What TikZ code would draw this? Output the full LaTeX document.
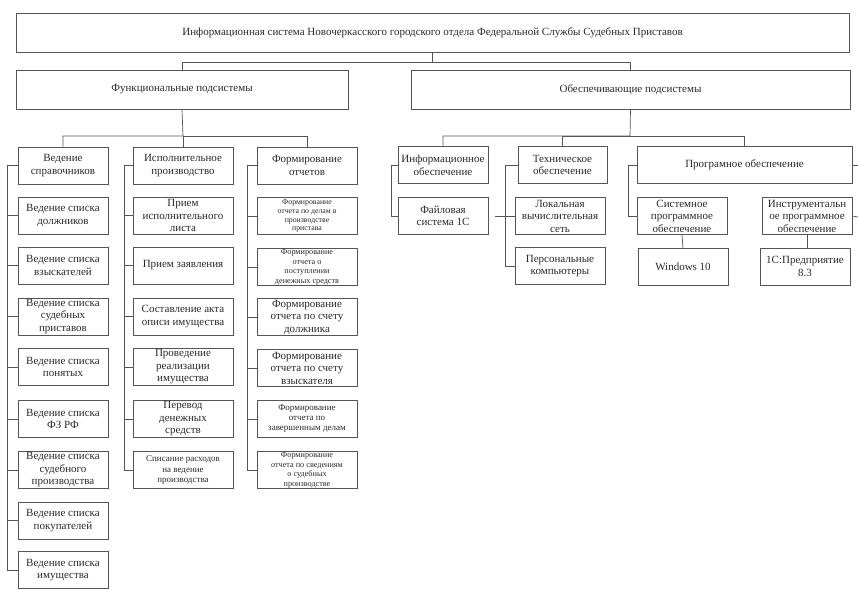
\documentclass[tikz,border=0pt]{standalone}
\usepackage{fontspec}
\setmainfont{Liberation Serif}
\definecolor{linec}{HTML}{555555}
\definecolor{txt}{HTML}{2A2A2A}
\begin{document}
\begin{tikzpicture}[x=1pt,y=-1pt,
  box/.style={draw=linec, line width=0.7pt, fill=white, align=center, text=txt,
    font=\fontsize{11}{12.5}\selectfont, inner sep=0.5pt, minimum height=37pt},
  wide/.style={box, minimum height=39pt, font=\fontsize{11}{12}\selectfont},
  fs/.style 2 args={font=\fontsize{#1}{#2}\selectfont},
  w90/.style={minimum width=90pt},
  w100/.style={minimum width=100pt},
  link/.style={draw=linec, line width=0.7pt}]
\useasboundingbox (0,0) rectangle (858,589);
\fill[white] (0,0) rectangle (858,589);

% upper levels
\node[wide, minimum width=833pt] (top) at (432.5,32.5)
  {Информационная система Новочеркасского городского отдела Федеральной Службы Судебных Приставов};
\node[wide, minimum width=332pt] (func) at (182,89.5) {Функциональные подсистемы};
\node[wide, minimum width=439pt] (supp) at (630.5,89.5) {Обеспечивающие подсистемы};

% functional subsystems: first column
\node[box,w90] (a1) at (63,165.5) {Ведение\\справочников};
\node[box,w90] (a2) at (63,215.5) {Ведение списка\\должников};
\node[box,w90] (a3) at (63,265.5) {Ведение списка\\взыскателей};
\node[box,w90] (a4) at (63,316.5) {Ведение списка\\судебных\\приставов};
\node[box,w90] (a5) at (63,367) {Ведение списка\\понятых};
\node[box,w90] (a6) at (63,419) {Ведение списка\\ФЗ РФ};
\node[box,w90] (a7) at (63,470) {Ведение списка\\судебного\\производства};
\node[box,w90] (a8) at (63,520.5) {Ведение списка\\покупателей};
\node[box,w90] (a9) at (63,570) {Ведение списка\\имущества};

% second column
\node[box,w100] (b1) at (183,165.5) {Исполнительное\\производство};
\node[box,w100] (b2) at (183,215.5) {Прием\\исполнительного\\листа};
\node[box,w100] (b3) at (183,265.5) {Прием заявления};
\node[box,w100] (b4) at (183,316.5) {Составление акта\\описи имущества};
\node[box,w100] (b5) at (183,367) {Проведение\\реализации\\имущества};
\node[box,w100] (b6) at (183,419) {Перевод\\денежных\\средств};
\node[box,w100,fs={9}{10.5}] (b7) at (183,470) {Списание расходов\\на ведение\\производства};

% third column
\node[box,w100] (c1) at (307,165.5) {Формирование\\отчетов};
\node[box,w100,fs={7.8}{8.8}] (c2) at (307,216) {Формирование\\отчета по делам в\\производстве\\пристава};
\node[box,w100,fs={8.2}{9.6}] (c3) at (307,267) {Формирование\\отчета о\\поступлении\\денежных средств};
\node[box,w100] (c4) at (307,317) {Формирование\\отчета по счету\\должника};
\node[box,w100] (c5) at (307,368) {Формирование\\отчета по счету\\взыскателя};
\node[box,w100,fs={9}{10}] (c6) at (307,419) {Формирование\\отчета по\\завершенным делам};
\node[box,w100,fs={8.2}{9.6}] (c7) at (307,470) {Формирование\\отчета по сведениям\\о судебных\\производстве};

% supporting subsystems
\node[box,w90] (d1) at (443,165) {Информационное\\обеспечение};
\node[box,w90] (d2) at (443,216) {Файловая\\система 1С};
\node[box,minimum width=89pt] (e1) at (562.5,165) {Техническое\\обеспечение};
\node[box,w90] (e2) at (560,216) {Локальная\\вычислительная\\сеть};
\node[box,w90] (e3) at (560,266) {Персональные\\компьютеры};
\node[box,minimum width=215pt] (f1) at (744.5,165) {Програмное обеспечение};
\node[box,w90] (f2) at (682,216) {Системное\\программное\\обеспечение};
\node[box,w90] (f3) at (683,267) {Windows 10};
\node[box,w90] (g2) at (807,216) {Инструментальн\\ое программное\\обеспечение};
\node[box,w90] (g3) at (805,266.5) {1С:Предприятие\\8.3};

% free ends at the right border
\coordinate (r1) at (858,165);
\coordinate (r2) at (858,217);
\coordinate (l2) at (495,216);

% connectors: top levels
\draw[link] (top.south) -- ++(0,10) -| (func.north);
\draw[link] (top.south) ++(0,10) -| (supp.north);

% connectors: functional branch
\draw[link] (func.south) -- (183,136) -| (a1.north);
\draw[link] (183,136) -- (b1.north);
\draw[link] (183,136) -| (c1.north);
\foreach \n in {2,...,9} \draw[link] (7,0 |- a\n.west) -- (a\n.west);
\draw[link] (a1.west) -- (7,0 |- a1.west) -- (7,0 |- a9.west);
\foreach \n in {2,...,7} \draw[link] (124,0 |- b\n.west) -- (b\n.west);
\draw[link] (b1.west) -- (124,0 |- b1.west) -- (124,0 |- b7.west);
\foreach \n in {2,...,7} \draw[link] (247,0 |- c\n.west) -- (c\n.west);
\draw[link] (c1.west) -- (247,0 |- c1.west) -- (247,0 |- c7.west);

% connectors: supporting branch
\draw[link] (supp.south) -- (630,136) -| (d1.north);
\draw[link] (630,136) -| (e1.north);
\draw[link] (630,136) -| (f1.north);
\draw[link] (d1.west) -- (391,0 |- d1.west) |- (d2.west);
\draw[link] (e1.west) -- (505,0 |- e1.west) |- (e3.west);
\draw[link] (l2) -- (e2.west);
\draw[link] (f1.west) -- (628,0 |- f1.west) |- (f2.west);
\draw[link] (f2.south) -- (f3.north);
\draw[link] (g2.south) -- (g2.south |- g3.north);
\draw[link] (f1.east) -- (r1);
\draw[link] (g2.east) -- (r2);
\end{tikzpicture}
\end{document}
